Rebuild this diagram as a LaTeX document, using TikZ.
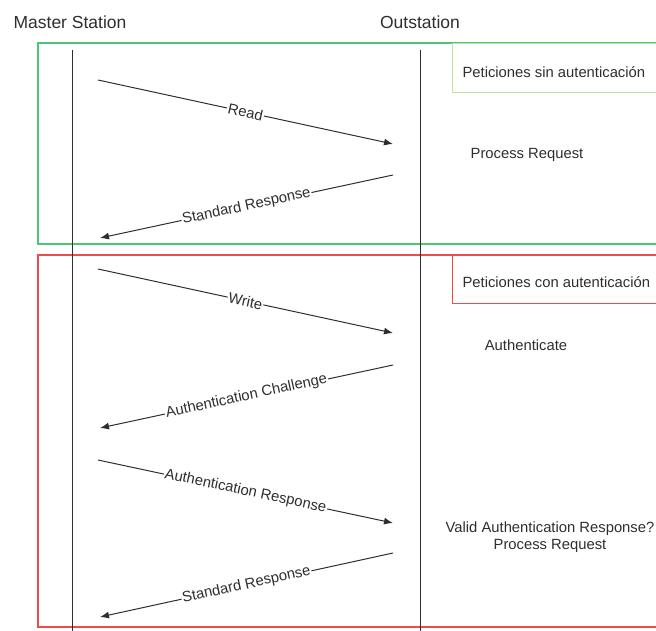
\documentclass[tikz,border=0pt]{standalone}
\usepackage{fontspec}
\setmainfont{Liberation Sans}
\usetikzlibrary{arrows.meta,positioning}
\definecolor{SeqGreen}{HTML}{4DC47A}
\definecolor{SeqGreenLight}{HTML}{BCE49A}
\definecolor{SeqRed}{HTML}{F24A4A}
\definecolor{SeqGrey}{HTML}{2E2E2E}

\begin{document}
\begin{tikzpicture}[x=1pt, y=-1pt, every node/.style={font=\fontsize{14.8}{17}\selectfont, text=SeqGrey},
		msg/.style={-{Latex[length=9pt,width=7pt]}, SeqGrey, line width=1pt},
		lbl/.style={midway, sloped, fill=white, inner sep=1pt},
		life/.style={SeqGrey, line width=1pt}]
		\useasboundingbox (0,0) rectangle (656,631);
		% groups
		\draw[SeqGreen, line width=1.3pt] (38,43) rectangle (662,244);
		\node[draw=SeqGreenLight, line width=1.3pt, fill=white, minimum width=210pt, minimum height=49pt, anchor=north west, inner sep=0pt] (nosec) at (452,43) {};
		\node[anchor=west] (nosectxt) at (459,72) {Peticiones sin autenticación};
		\draw[SeqRed, line width=1.3pt] (38,255) rectangle (662,627);
		\node[draw=SeqRed, line width=1.3pt, fill=white, minimum width=210pt, minimum height=48pt, anchor=north west, inner sep=0pt] (sec) at (452,255) {};
		\node[anchor=west] (sectxt) at (459,282) {Peticiones con autenticación};
		% lifelines
		\node[font=\fontsize{17.5}{20}\selectfont] (master) at (70,22) {Master Station};
		\node[font=\fontsize{17.5}{20}\selectfont] (out) at (420,22) {Outstation};
		\coordinate (mtop) at (72,50); \coordinate (mbot) at (72,631);
		\coordinate (otop) at (420,50); \coordinate (obot) at (420,631);
		\draw[life] (mtop)--(mbot); \draw[life] (otop)--(obot);
		% messages
		\coordinate (a1) at (98,80); \coordinate (b1) at (393,144);
		\coordinate (a2) at (393,175); \coordinate (b2) at (100,238);
		\coordinate (a3) at (98,269); \coordinate (b3) at (393,333);
		\coordinate (a4) at (393,365); \coordinate (b4) at (100,428);
		\coordinate (a5) at (98,460); \coordinate (b5) at (393,523);
		\coordinate (a6) at (393,553); \coordinate (b6) at (100,617);
		\draw[msg] (a1)--(b1) node[lbl] {Read};
		\draw[msg] (a2)--(b2) node[lbl] {Standard Response};
		\draw[msg] (a3)--(b3) node[lbl] {Write};
		\draw[msg] (a4)--(b4) node[lbl] {Authentication Challenge};
		\draw[msg] (a5)--(b5) node[lbl] {Authentication Response};
		\draw[msg] (a6)--(b6) node[lbl] {Standard Response};
		% outstation actions
		\node (proc1) at (527,155) {Process Request};
		\node (auth) at (526,345) {Authenticate};
		\node[align=center] (proc2) at (550,537) {Valid Authentication Response?\\Process Request};
	\end{tikzpicture}
\end{document}
